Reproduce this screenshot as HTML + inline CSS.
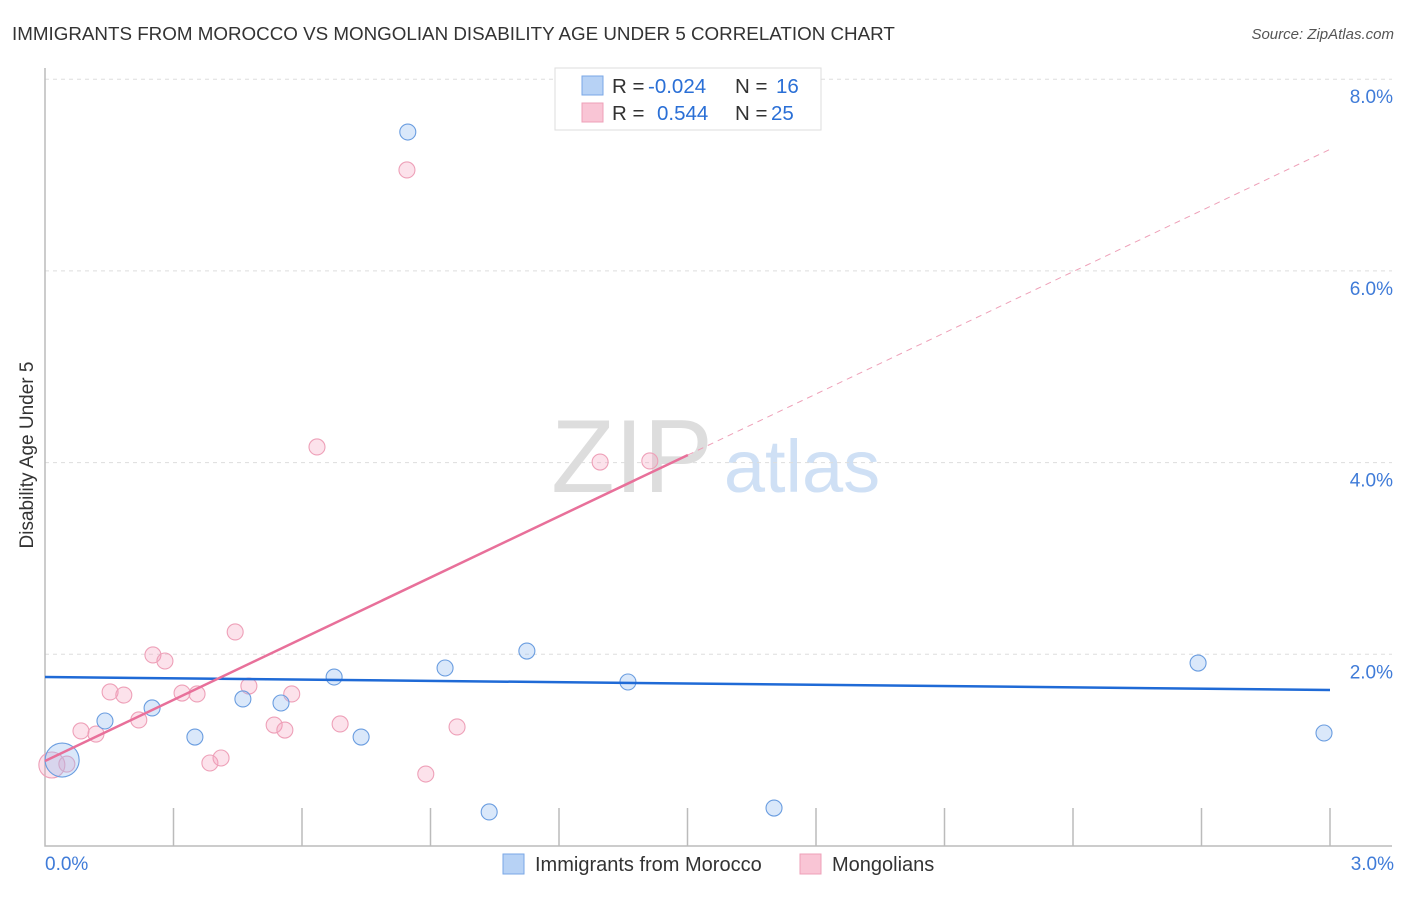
<!DOCTYPE html>
<html><head><meta charset="utf-8"><style>
body{margin:0;background:#fff;font-family:"Liberation Sans",sans-serif}
svg text{font-family:"Liberation Sans",sans-serif}
</style></head><body>
<svg width="1406" height="892" id="c">
<text x="12" y="40" font-size="18.8" fill="#333">IMMIGRANTS FROM MOROCCO VS MONGOLIAN DISABILITY AGE UNDER 5 CORRELATION CHART</text>
<text x="1394" y="39" font-size="15" fill="#555" text-anchor="end" font-style="italic">Source: ZipAtlas.com</text>
<text x="33" y="455" font-size="19" fill="#333" text-anchor="middle" transform="rotate(-90 33 455)">Disability Age Under 5</text>
<g>
<text x="632" y="492" font-size="104" fill="#ddd" text-anchor="middle" font-family="Liberation Serif">ZIP</text>
<text x="802" y="492" font-size="74" fill="#cfe0f5" text-anchor="middle">atlas</text>
</g>
<g id="grid"></g><g id="axes"></g><g id="marks"></g>
<g>
<rect x="555" y="68" width="266" height="62" fill="#fff" stroke="#ddd"/>
<rect x="582" y="76" width="21" height="19" fill="#b7d2f5" stroke="#7aa7e6"/>
<rect x="582" y="103" width="21" height="19" fill="#f9c5d5" stroke="#eea0b8"/>
<text x="612" y="93" font-size="20.5" fill="#333">R = <tspan x="648" fill="#2a6fd6">-0.024</tspan><tspan x="735">N = </tspan><tspan x="776" fill="#2a6fd6">16</tspan></text>
<text x="612" y="120" font-size="20.5" fill="#333">R = <tspan x="657" fill="#2a6fd6">0.544</tspan><tspan x="735">N = </tspan><tspan x="771" fill="#2a6fd6">25</tspan></text>
</g>
<g>
<rect x="503" y="854" width="21" height="20" fill="#b7d2f5" stroke="#7aa7e6"/>
<text x="535" y="871" font-size="20" fill="#333">Immigrants from Morocco</text>
<rect x="800" y="854" width="21" height="20" fill="#f9c5d5" stroke="#eea0b8"/>
<text x="832" y="871" font-size="20" fill="#333">Mongolians</text>
</g>
</svg>
<script>
const blueX=[0.040,0.140,0.250,0.350,0.462,0.551,0.675,0.738,0.847,0.934,1.125,1.037,1.361,1.702,2.692,2.986];
const blueY=[0.897,1.304,1.440,1.137,1.534,1.492,1.763,1.137,7.449,1.857,2.034,0.355,1.711,0.396,1.909,1.179];
const pinkX=[0.016,0.051,0.084,0.119,0.152,0.184,0.219,0.252,0.280,0.320,0.355,0.385,0.411,0.444,0.476,0.535,0.560,0.576,0.635,0.689,0.845,0.889,0.962,1.296,1.412];
const pinkY=[0.845,0.855,1.200,1.168,1.607,1.575,1.315,1.993,1.930,1.596,1.586,0.866,0.918,2.233,1.669,1.262,1.210,1.586,4.163,1.273,7.053,0.751,1.242,4.006,4.017];
const yTicks=[2,4,6,8];
const yTickLabels=["2.0%","4.0%","6.0%","8.0%"];
const xTickLabels=["0.0%","3.0%"];
const blueTrend=[1.763,-0.045];
const pinkTrend=[0.887,2.127];
const pinkSolidEnd=1.501;
const NS="http://www.w3.org/2000/svg";
const sx=v=>45+v/3*1285, sy=v=>846-v*95.85;
function mk(p,t,a){const e=document.createElementNS(NS,t);for(const k in a)e.setAttribute(k,a[k]);document.getElementById(p).appendChild(e);return e;}
yTicks.forEach((t,i)=>{
 const g=mk('grid','line',{x1:45,x2:1392,y1:sy(t),y2:sy(t),stroke:'#ddd','stroke-dasharray':'4,4'});
 
 
 const l=mk('grid','text',{x:1393,y:sy(t)+24,'font-size':19,fill:'#3f7bd8','text-anchor':'end'});
 l.textContent=yTickLabels[i];
 
 
});
const ax=mk('axes','path',{d:'M45 68V846H1392',stroke:'#bbb',fill:'none','stroke-width':1.5});


for(let i=1;i<=10;i++){const t=mk('axes','line',{x1:sx(i*0.3),x2:sx(i*0.3),y1:808,y2:846,stroke:'#bbb','stroke-width':1.5});
 
 }
[[0,'start',45],[3,'end',1394]].forEach((d,i)=>{const l=mk('axes','text',{x:d[2],y:870,'font-size':19,fill:'#3f7bd8','text-anchor':d[1]});l.textContent=xTickLabels[i];
 
 });
function dot(x,y,r,f,s){const c=mk('marks','circle',{cx:sx(x),cy:sy(y),r:r,fill:f,stroke:s,'stroke-width':1.1});return c;}
pinkX.forEach((x,i)=>{const c=dot(x,pinkY[i],i==0?13:8,'rgba(245,160,190,0.3)','#eea0b8');
 
 });
blueX.forEach((x,i)=>{const c=dot(x,blueY[i],i==0?17:8,'rgba(150,190,240,0.35)','#6a9de0');
 
 });
const bl=mk('marks','line',{x1:sx(0),x2:sx(3),y1:sy(blueTrend[0]),y2:sy(blueTrend[0]+blueTrend[1]*3),stroke:'#1f6ad6','stroke-width':2.5});


const pl=mk('marks','line',{x1:sx(0),x2:sx(pinkSolidEnd),y1:sy(pinkTrend[0]),y2:sy(pinkTrend[0]+pinkTrend[1]*pinkSolidEnd),stroke:'#e8709a','stroke-width':2.5});


const pd=mk('marks','line',{x1:sx(pinkSolidEnd),x2:sx(3),y1:sy(pinkTrend[0]+pinkTrend[1]*pinkSolidEnd),y2:sy(pinkTrend[0]+pinkTrend[1]*3),stroke:'#eea0b8','stroke-width':1,'stroke-dasharray':'6,5'});


</script>
</body></html>
